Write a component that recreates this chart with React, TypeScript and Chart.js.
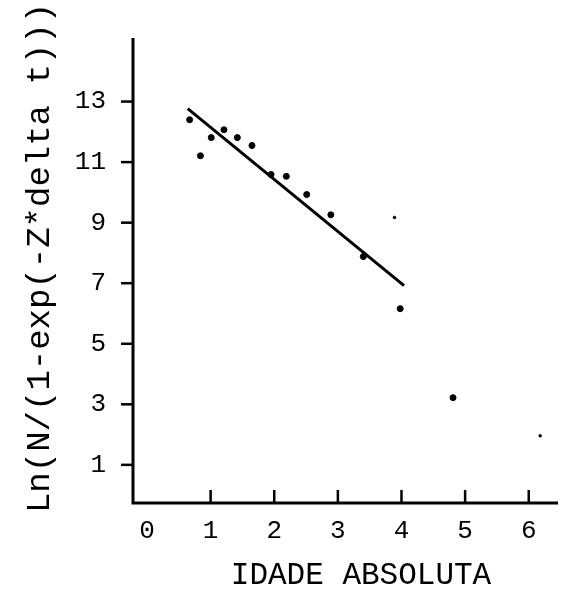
import React, { useEffect, useRef } from "react";
import { Chart, registerables } from "chart.js";

Chart.register(...registerables);

const pointX = [0.67, 0.84, 1.01, 1.21, 1.42, 1.65, 1.95, 2.19, 2.51, 2.89, 3.4, 3.98, 4.81];
const pointY = [12.4, 11.21, 11.81, 12.07, 11.81, 11.55, 10.59, 10.53, 9.93, 9.26, 7.88, 6.16, 3.22];
const faintX = [3.89, 6.18];
const faintY = [9.17, 1.96];
const lineX = [0.64, 4.04];
const lineY = [12.77, 6.92];
const xTicks = [0, 1, 2, 3, 4, 5, 6];
const yTicks = [1, 3, 5, 7, 9, 11, 13];
const xTitle = "IDADE ABSOLUTA";
const yTitle = "Ln(N/(1-exp(-Z*delta t)))";

const FONT = "'Liberation Mono', 'Courier New', monospace";

export default function App() {
  const ref = useRef<HTMLCanvasElement | null>(null);
  useEffect(() => {
    if (!ref.current) return;
    const tickPlugin = {
      id: "inwardTicks",
      afterDraw(chart: any) {
        const ctx = chart.ctx;
        const xs = chart.scales.x;
        const ys = chart.scales.y;
        const area = chart.chartArea;
        ctx.save();
        ctx.strokeStyle = "#000";
        ctx.lineWidth = 3;
        ctx.lineCap = "butt";
        ctx.beginPath();
        ctx.moveTo(area.left, area.top);
        ctx.lineTo(area.left, area.bottom);
        ctx.lineTo(area.right, area.bottom);
        ctx.stroke();
        ctx.lineWidth = 2.5;
        xTicks.forEach((v) => {
          if (v === 0) return;
          const px = xs.getPixelForValue(v);
          ctx.beginPath();
          ctx.moveTo(px, area.bottom);
          ctx.lineTo(px, area.bottom - 13);
          ctx.stroke();
        });
        yTicks.forEach((v) => {
          const py = ys.getPixelForValue(v);
          ctx.beginPath();
          ctx.moveTo(area.left, py);
          ctx.lineTo(area.left - 12, py);
          ctx.stroke();
        });
        ctx.fillStyle = "#000";
        ctx.textAlign = "center";
        ctx.textBaseline = "middle";
        ctx.font = `31px ${FONT}`;
        ctx.fillText(xTitle, 361, 576);
        ctx.translate(40, 258);
        ctx.rotate(-Math.PI / 2);
        ctx.font = `34px ${FONT}`;
        ctx.fillText(yTitle, 0, 0);
        ctx.restore();
      },
    };
    const chart = new Chart(ref.current, {
      type: "scatter",
      data: {
        datasets: [
          {
            data: pointX.map((x, i) => ({ x, y: pointY[i] })),
            backgroundColor: "#000",
            borderColor: "#000",
            pointRadius: 3,
            pointStyle: "circle",
          },
          {
            data: faintX.map((x, i) => ({ x, y: faintY[i] })),
            backgroundColor: "#000",
            borderColor: "#000",
            pointRadius: 1.3,
          },
          {
            type: "line",
            data: lineX.map((x, i) => ({ x, y: lineY[i] })),
            borderColor: "#000",
            borderWidth: 3,
            pointRadius: 0,
            fill: false,
          } as any,
        ],
      },
      options: {
        animation: false,
        responsive: false,
        maintainAspectRatio: false,
        layout: { padding: { top: 38, right: 1, left: 0, bottom: 0 } },
        plugins: { legend: { display: false }, tooltip: { enabled: false } },
        scales: {
          x: {
            type: "linear",
            min: -0.22,
            max: 6.46,
            afterBuildTicks: (s: any) => {
              s.ticks = xTicks.map((v) => ({ value: v }));
            },
            afterFit: (s: any) => {
              s.height = 87;
              s.paddingLeft = 0;
              s.paddingRight = 0;
            },
            grid: { display: false, drawTicks: false },
            border: { display: false },
            ticks: {
              color: "#000",
              padding: 13,
              font: { family: FONT, size: 26 },
              maxRotation: 0,
              autoSkip: false,
            },
            title: { display: false },
          },
          y: {
            type: "linear",
            min: -0.26,
            max: 15.1,
            afterBuildTicks: (s: any) => {
              s.ticks = yTicks.map((v) => ({ value: v }));
            },
            afterFit: (s: any) => {
              s.width = 133;
              s.paddingTop = 0;
              s.paddingBottom = 0;
            },
            grid: { display: false, drawTicks: false },
            border: { display: false },
            ticks: {
              color: "#000",
              padding: 27,
              font: { family: FONT, size: 26 },
              autoSkip: false,
            },
            title: { display: false },
          },
        },
      },
      plugins: [tickPlugin],
    });
    return () => chart.destroy();
  }, []);
  return (
    <div style={{ position: "absolute", left: 0, top: 0, width: 563, height: 590, background: "#fff" }}>
      <canvas ref={ref} width={563} height={590} style={{ display: "block" }} />
    </div>
  );
}
